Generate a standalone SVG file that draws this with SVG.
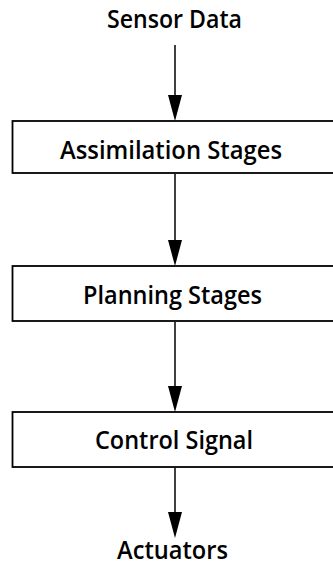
<svg xmlns="http://www.w3.org/2000/svg" width="333" height="565" viewBox="0 0 333 565">
  <style>
    .box { fill: #ffffff; stroke: #000000; stroke-width: 1.8; }
    .lbl { font-family: "Open Sans", "DejaVu Sans", sans-serif; font-weight: 600; font-size: 25px; fill: #000000; }
    .wire { stroke: #000000; stroke-width: 1.5; fill: none; }
    .head { fill: #000000; }
  </style>
  <rect width="333" height="565" fill="#ffffff"/>

  <g id="connectors">
    <line class="wire" x1="175" y1="45" x2="175" y2="100"/>
    <polygon class="head" points="168,95 182,95 175,121"/>
    <line class="wire" x1="175" y1="174" x2="175" y2="245"/>
    <polygon class="head" points="168,240 182,240 175,266"/>
    <line class="wire" x1="175" y1="322" x2="175" y2="391"/>
    <polygon class="head" points="168,386 182,386 175,412"/>
    <line class="wire" x1="175" y1="468" x2="175" y2="517"/>
    <polygon class="head" points="168,512 182,512 175,538"/>
  </g>

  <g id="sensor-data">
    <text class="lbl" x="107" y="28" textLength="135" lengthAdjust="spacingAndGlyphs">Sensor Data</text>
  </g>

  <g id="assimilation-stages">
    <rect class="box" x="12.5" y="121" width="330" height="52"/>
    <text class="lbl" x="60" y="159" textLength="222" lengthAdjust="spacingAndGlyphs">Assimilation Stages</text>
  </g>

  <g id="planning-stages">
    <rect class="box" x="12.5" y="266" width="330" height="55"/>
    <text class="lbl" x="83" y="304" textLength="179" lengthAdjust="spacingAndGlyphs">Planning Stages</text>
  </g>

  <g id="control-signal">
    <rect class="box" x="12.5" y="412" width="330" height="55"/>
    <text class="lbl" x="95" y="449" textLength="158" lengthAdjust="spacingAndGlyphs">Control Signal</text>
  </g>

  <g id="actuators">
    <text class="lbl" x="117" y="559" textLength="111" lengthAdjust="spacingAndGlyphs">Actuators</text>
  </g>
</svg>
